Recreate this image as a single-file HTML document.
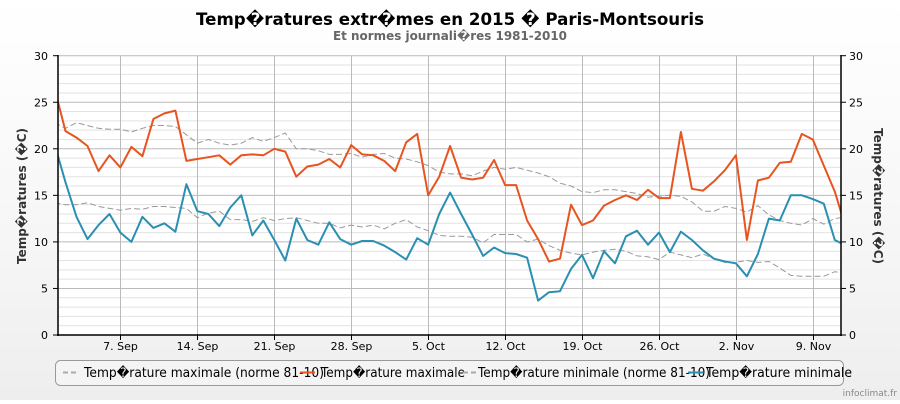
<!DOCTYPE html>
<html><head><meta charset="utf-8"><style>
html,body{margin:0;padding:0}
body{width:900px;height:400px;overflow:hidden;background:linear-gradient(#ffffff,#f6f6f6 60%,#eeeeee);font-family:"DejaVu Sans","Liberation Sans",sans-serif}
svg text{font-family:"DejaVu Sans","Liberation Sans",sans-serif}
</style></head><body>
<svg id="s" width="900" height="400" xmlns="http://www.w3.org/2000/svg">
<rect x="58" y="55.7" width="783" height="279.3" fill="#fff"/>
<g id="grid"></g>
<g id="series"></g>
<line x1="58" y1="55" x2="58" y2="336" stroke="#000" stroke-width="1.5"/>
<line x1="841" y1="55" x2="841" y2="336" stroke="#000" stroke-width="1.5"/>
<line x1="57" y1="335" x2="842" y2="335" stroke="#000" stroke-width="1.5"/>
<text x="450" y="25" text-anchor="middle" font-size="17" font-weight="bold" fill="#000" textLength="508" lengthAdjust="spacingAndGlyphs">Temp�ratures extr�mes en 2015 � Paris-Montsouris</text>
<text x="450" y="40" text-anchor="middle" font-size="12" font-weight="bold" fill="#666" textLength="234" lengthAdjust="spacingAndGlyphs">Et normes journali�res 1981-2010</text>
<g font-size="11" fill="#000" text-anchor="end">
<text x="48" y="339">0</text><text x="48" y="292.5">5</text><text x="48" y="246">10</text><text x="48" y="199.5">15</text><text x="48" y="153">20</text><text x="48" y="106.5">25</text><text x="48" y="60">30</text>
</g>
<g font-size="11" fill="#000">
<text x="849" y="339">0</text><text x="849" y="292.5">5</text><text x="849" y="246">10</text><text x="849" y="199.5">15</text><text x="849" y="153">20</text><text x="849" y="106.5">25</text><text x="849" y="60">30</text>
</g>
<g font-size="11" fill="#000" text-anchor="middle">
<text x="120.5" y="350">7. Sep</text><text x="197.5" y="350">14. Sep</text><text x="274.5" y="350">21. Sep</text><text x="351.5" y="350">28. Sep</text><text x="428.5" y="350">5. Oct</text><text x="505.5" y="350">12. Oct</text><text x="582.5" y="350">19. Oct</text><text x="659.5" y="350">26. Oct</text><text x="736.5" y="350">2. Nov</text><text x="813.5" y="350">9. Nov</text>
</g>
<text transform="translate(26,196) rotate(-90)" text-anchor="middle" font-size="12" font-weight="bold" fill="#333">Temp�ratures (�C)</text>
<text transform="translate(874,196) rotate(90)" text-anchor="middle" font-size="12" font-weight="bold" fill="#333">Temp�ratures (�C)</text>
<rect x="55.5" y="360.5" width="788" height="25" rx="5" fill="#fff" fill-opacity="0.3" stroke="#999"/>
<line x1="63" y1="372.5" x2="78" y2="372.5" stroke="#aaa" stroke-width="2" stroke-dasharray="5,3"/>
<text x="84" y="377" font-size="13" fill="#000" textLength="240" lengthAdjust="spacingAndGlyphs">Temp�rature maximale (norme 81-10)</text>
<line x1="300" y1="372.5" x2="315" y2="372.5" stroke="#e8541f" stroke-width="2"/>
<text x="321" y="377" font-size="13" fill="#000" textLength="144" lengthAdjust="spacingAndGlyphs">Temp�rature maximale</text>
<line x1="463" y1="372.5" x2="478" y2="372.5" stroke="#aaa" stroke-width="2" stroke-dasharray="5,3"/>
<text x="478" y="377" font-size="13" fill="#000" textLength="232" lengthAdjust="spacingAndGlyphs">Temp�rature minimale (norme 81-10)</text>
<line x1="688" y1="372.5" x2="703" y2="372.5" stroke="#2a8fb3" stroke-width="2"/>
<text x="706" y="377" font-size="13" fill="#000" textLength="146" lengthAdjust="spacingAndGlyphs">Temp�rature minimale</text>
<text x="897" y="396" text-anchor="end" font-size="9" fill="#888">infoclimat.fr</text>
</svg>
<script>
var NS="http://www.w3.org/2000/svg";
function Y(t){return 335-t*9.31}
function X(d){return 54.5+10.99*d}
var g=document.getElementById('grid');
function ln(p,x1,y1,x2,y2,c,w,da){var l=document.createElementNS(NS,'line');l.setAttribute('x1',x1);l.setAttribute('y1',y1);l.setAttribute('x2',x2);l.setAttribute('y2',y2);l.setAttribute('stroke',c);l.setAttribute('stroke-width',w);if(da)l.setAttribute('stroke-dasharray',da);p.appendChild(l);}
for(var t=1;t<30;t++){ln(g,58,Y(t),841,Y(t),t%5==0?'#bbb':'#e2e2e2',1);}
ln(g,58,Y(30),841,Y(30),'#bbb',1);
for(var k=0;k<10;k++){var x=120.5+77*k;ln(g,x,55.7,x,335,'#bbb',1);ln(g,x,335,x,340,'#000',1);}
for(var t=0;t<=30;t+=5){ln(g,53,Y(t),58,Y(t),'#000',1);ln(g,841,Y(t),846,Y(t),'#000',1);}
var mx=[26.5,21.9,21.2,20.3,17.6,19.3,18.0,20.2,19.2,23.2,23.8,24.1,18.7,18.9,19.1,19.3,18.3,19.3,19.4,19.3,20.0,19.7,17.0,18.1,18.3,18.9,18.0,20.4,19.4,19.3,
18.7,17.6,20.7,21.6,15.0,17.0,20.3,16.9,16.7,16.9,18.8,16.1,16.1,12.3,10.3,7.9,8.2,14.0,11.8,12.3,13.9,14.5,15.0,14.5,15.6,14.7,14.7,21.8,15.7,15.5,16.5,
17.7,19.3,10.2,16.6,16.9,18.5,18.6,21.6,21.0,18.2,15.4,11.5];
var mn=[20.5,16.4,12.7,10.3,11.8,13.0,11.0,10.0,12.7,11.5,12.0,11.1,16.2,13.3,13.0,11.7,13.7,15.0,10.7,12.3,10.2,8.0,12.5,10.2,9.7,12.1,10.3,9.7,10.1,10.1,
9.6,8.9,8.1,10.4,9.7,13.0,15.3,13.0,10.8,8.5,9.4,8.8,8.7,8.3,3.7,4.6,4.7,7.1,8.6,6.1,9.0,7.7,10.6,11.2,9.7,11.0,8.9,11.1,10.2,9.1,8.2,
7.9,7.7,6.3,8.7,12.5,12.3,15.0,15.0,14.6,14.1,10.2,9.6];
var nx=[22.8,22.2,22.8,22.5,22.2,22.1,22.1,21.8,22.2,22.5,22.5,22.4,21.5,20.6,21.0,20.6,20.4,20.6,21.2,20.8,21.2,21.7,20.0,20.0,19.8,19.4,19.4,19.5,19.1,19.4,19.5,19.0,18.9,18.6,18.2,17.5,17.3,17.3,17.1,17.6,18.0,17.8,18.0,17.7,17.4,17.0,16.3,16.0,15.4,15.3,15.6,15.6,15.4,15.2,14.8,14.9,15.0,14.9,14.3,13.3,13.3,13.8,13.6,13.2,13.9,12.9,12.3,12.0,11.8,12.5,11.9,12.5,12.7];
var nn=[14.2,14.0,14.0,14.2,13.8,13.6,13.4,13.6,13.5,13.8,13.8,13.7,13.6,12.6,13.1,13.3,12.4,12.4,12.2,12.6,12.3,12.5,12.6,12.3,12.0,12.0,11.5,11.8,11.6,11.8,11.4,12.0,12.4,11.6,11.2,10.7,10.6,10.6,10.5,9.9,10.8,10.8,10.8,10.0,10.3,9.6,9.1,8.8,8.6,8.9,9.1,9.2,9.0,8.5,8.4,8.1,8.9,8.6,8.3,8.7,8.2,7.8,7.8,8.0,7.8,7.9,7.2,6.4,6.3,6.3,6.3,6.8,6.6];
var s=document.getElementById('series');
var cp=document.createElementNS(NS,'clipPath');cp.id='c';var r=document.createElementNS(NS,'rect');r.setAttribute('x',58);r.setAttribute('y',50);r.setAttribute('width',783);r.setAttribute('height',286);cp.appendChild(r);s.appendChild(cp);
s.setAttribute('clip-path','url(#c)');
function pl(a,c,w,da){var p=document.createElementNS(NS,'polyline');p.setAttribute('points',a.map(function(v,i){return X(i).toFixed(1)+','+Y(v).toFixed(1)}).join(' '));p.setAttribute('fill','none');p.setAttribute('stroke',c);p.setAttribute('stroke-width',w);p.setAttribute('stroke-linejoin','round');if(da)p.setAttribute('stroke-dasharray',da);s.appendChild(p);}
pl(nx,'#999',1,'6,3');pl(nn,'#999',1,'6,3');
pl(mx,'#e8541f',2);pl(mn,'#2a8fb3',2);
</script>
</body></html>
